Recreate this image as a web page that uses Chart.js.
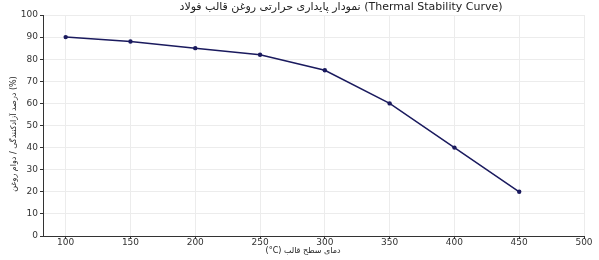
<!DOCTYPE html>
<html>
<head>
<meta charset="utf-8">
<script src="https://cdn.jsdelivr.net/npm/chart.js@4"></script>
<style>
  html, body { margin: 0; padding: 0; background: #fff; }
  #wrap { width: 599px; height: 260px; position: relative; }
</style>
</head>
<body>
<div id="wrap"><canvas id="chart"></canvas></div>
<script>
'use strict';

// 데이터
const temps  = [100, 150, 200, 250, 300, 350, 400, 450];
const values = [90, 88, 85, 82, 75, 60, 40, 20];
const xTicks = [100, 150, 200, 250, 300, 350, 400, 450, 500];
const yTicks = [0, 10, 20, 30, 40, 50, 60, 70, 80, 90, 100];

const titleText = 'نمودار پایداری حرارتی روغن قالب فولاد (Thermal Stability Curve)';
const xLabel    = '(°C) دمای سطح قالب';
const yLabel    = 'درصد آزادکنندگی / دوام روغن (%)';

const FONT = "'DejaVu Sans', sans-serif";

// 제목 + 축 제목 직접 그리기
const labelsPlugin = {
  id: 'labels',
  afterDraw(chart) {
    const { ctx } = chart;
    ctx.save();
    ctx.fillStyle = '#222';
    ctx.textBaseline = 'middle';
    ctx.textAlign = 'center';
    ctx.font = `11px ${FONT}`;
    ctx.fillText(titleText, 341, 7);
    ctx.font = `8px ${FONT}`;
    ctx.fillText(xLabel, 303, 251);
    ctx.translate(14, 134);
    ctx.rotate(-Math.PI / 2);
    ctx.fillText(yLabel, 0, 0);
    ctx.restore();
  }
};

new Chart(document.getElementById('chart'), {
  type: 'line',
  data: {
    datasets: [{
      data: temps.map((t, i) => ({ x: t, y: values[i] })),
      borderColor: '#1a1a5e',
      backgroundColor: '#1a1a5e',
      borderWidth: 1.5,
      pointRadius: 2.2,
      pointBorderWidth: 0,
      tension: 0
    }]
  },
  options: {
    responsive: true,
    maintainAspectRatio: false,
    animation: false,
    layout: { padding: { top: 15, right: 15, left: 0, bottom: 0 } },
    plugins: { legend: { display: false }, tooltip: { enabled: false } },
    scales: {
      x: {
        type: 'linear',
        min: 82.5, max: 500,
        afterBuildTicks: s => { s.ticks = xTicks.map(v => ({ value: v })); },
        afterFit: s => { s.height = 24; },
        grid: { color: '#ececec', lineWidth: 1, tickLength: 3, tickColor: '#333' },
        border: { color: '#333', width: 1 },
        ticks: { color: '#333', font: { family: FONT, size: 9 }, padding: -2, maxRotation: 0 }
      },
      y: {
        min: 0, max: 100,
        afterBuildTicks: s => { s.ticks = yTicks.map(v => ({ value: v })); },
        afterFit: s => { s.width = 43; },
        grid: { color: '#ececec', lineWidth: 1, tickLength: 3, tickColor: '#333' },
        border: { color: '#333', width: 1 },
        ticks: { color: '#333', font: { family: FONT, size: 9 }, padding: 2 }
      }
    }
  },
  plugins: [labelsPlugin]
});
</script>
</body>
</html>
